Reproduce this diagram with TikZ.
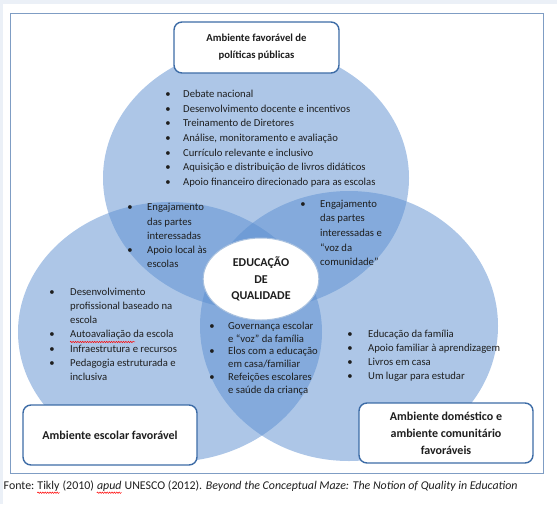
\documentclass[tikz,border=0pt]{standalone}
\usepackage{fontspec}
\setmainfont{Carlito}
\usetikzlibrary{decorations.pathmorphing}
\definecolor{circfill}{HTML}{5B8ED0}
\definecolor{boxline}{HTML}{3D6CA6}
\definecolor{frameline}{HTML}{7F9DC4}
\definecolor{bandcol}{HTML}{EBF0F7}
\definecolor{inkcol}{HTML}{1E1E1E}
\definecolor{ringcol}{HTML}{A9C1DF}
\newcommand\capsp{\hbox{\ }}
\begin{document}
\begin{tikzpicture}[x=1pt,y=-1pt,
  venn/.style={fill=circfill, fill opacity=0.5},
  titlebox/.style={draw=boxline, line width=1.4pt, fill=white, rounded corners=8pt,
    align=center, inner sep=0pt, text=inkcol},
  txt/.style={inner sep=0pt, anchor=mid west, text=inkcol, font=\fontsize{10.67}{13}\selectfont},
  blt/.style={inner sep=0pt, anchor=mid, text=inkcol, font=\fontsize{10.67}{13}\selectfont},
  captxt/.style={inner sep=0pt, anchor=base west, text=inkcol, font=\fontsize{11.9}{14}\selectfont},
  spell/.style={draw=red, line width=0.5pt, decorate, decoration={snake, amplitude=0.7pt, segment length=2.4pt}}
]
\useasboundingbox (0,0) rectangle (557,504);
\fill[bandcol] (0,0) rectangle (557,4);
\fill[bandcol] (0,0) rectangle (3,504);
\draw[frameline, line width=0.8pt] (10,13) rectangle (543,473);

% Venn ellipses
\fill[venn] (256,178) ellipse [x radius=153, y radius=132];
\fill[venn] (170,332) ellipse [x radius=152, y radius=130];
\fill[venn] (349,326) ellipse [x radius=149, y radius=135];

% centre
\node[draw=ringcol, line width=1pt, fill=white, shape=circle, inner sep=0pt,
  minimum size=82pt, xscale=1.41] (core) at (261,279) {};
\node[align=center, inner sep=0pt, text=inkcol, font=\fontsize{12}{16.7}\selectfont\bfseries] (coretxt) at (261,279) {EDUCAÇÃO\\DE\\QUALIDADE};

% title boxes
\node[titlebox, minimum width=165pt, minimum height=51pt, font=\fontsize{10.7}{17}\selectfont\bfseries] (top) at (256.5,47.5) {Ambiente favorável de\\políticas públicas};
\node[titlebox, minimum width=174pt, minimum height=60pt, font=\fontsize{12}{17}\selectfont\bfseries] (left) at (110,435) {Ambiente escolar favorável};
\node[titlebox, minimum width=174pt, minimum height=60pt, font=\fontsize{12}{17}\selectfont\bfseries] (right) at (446,433) {Ambiente doméstico e\\ambiente comunitário\\favoráveis};

% top list
\foreach \y/\b/\t [count=\i] in {95/1/Debate nacional, 109.7/1/Desenvolvimento docente e incentivos,
  124.4/1/Treinamento de Diretores, 139.1/1/{Análise, monitoramento e avaliação},
  153.8/1/Currículo relevante e inclusivo, 168.5/1/Aquisição e distribuição de livros didáticos,
  183.2/1/Apoio financeiro direcionado para as escolas}{
  \node[txt] (ta\i) at (183,\y) {\t};
  \ifnum\b=1 \node[blt] (tb\i) at (168,\y) {\textbullet};\fi
}
% top-left lens
\foreach \y/\b/\t [count=\i] in {208.5/1/Engajamento, 222.7/0/das partes, 236.9/0/interessadas,
  251.1/1/Apoio local às, 265.3/0/escolas}{
  \node[txt] (la\i) at (147,\y) {\t};
  \ifnum\b=1 \node[blt] (lb\i) at (130,\y) {\textbullet};\fi
}
% top-right lens
\foreach \y/\b/\t [count=\i] in {205/1/Engajamento, 219.6/0/das partes, 234.2/0/interessadas e,
  248.8/0/{“voz da}, 263.4/0/{comunidade”}}{
  \node[txt] (ra\i) at (320,\y) {\t};
  \ifnum\b=1 \node[blt] (rb\i) at (303,\y) {\textbullet};\fi
}
% left list
\foreach \y/\b/\t [count=\i] in {293/1/Desenvolvimento, 307.2/0/profissional baseado na, 321.4/0/escola,
  335.6/1/Autoavaliação da escola, 349.8/1/Infraestrutura e recursos,
  364/1/Pedagogia estruturada e, 378.2/0/inclusiva}{
  \node[txt] (sa\i) at (70,\y) {\t};
  \ifnum\b=1 \node[blt] (sb\i) at (52,\y) {\textbullet};\fi
}
% bottom lens
\foreach \y/\b/\t [count=\i] in {327/1/Governança escolar, 339.8/0/{e “voz” da família},
  352.6/1/Elos com a educação, 365.4/0/{em casa/familiar},
  378.2/1/Refeições escolares, 391/0/e saúde da criança}{
  \node[txt] (ga\i) at (228,\y) {\t};
  \ifnum\b=1 \node[blt] (gb\i) at (212,\y) {\textbullet};\fi
}
% right list
\foreach \y/\b/\t [count=\i] in {335/1/Educação da família, 349/1/Apoio familiar à aprendizagem,
  363/1/Livros em casa, 377/1/Um lugar para estudar}{
  \node[txt] (ha\i) at (368,\y) {\t};
  \ifnum\b=1 \node[blt] (hb\i) at (350,\y) {\textbullet};\fi
}

% caption
\node[captxt] (c1) at (3.5,489.5) {Fonte:\capsp};
\node[captxt] (c2) at (c1.base east) {Tikly};
\node[captxt] (c3) at (c2.base east) {\capsp(2010)\capsp};
\node[captxt] (c4) at (c3.base east) {\textit{apud}};
\node[captxt] (c5) at (c4.base east) {\capsp UNESCO (2012). \textit{Beyond the Conceptual Maze: The Notion of Quality in Education}};

% spell-check marks
\draw[spell] ([yshift=-2pt]sa4.south west) -- ++(65,0);
\draw[spell] ([yshift=-3.2pt]c2.base west) -- ([yshift=-3.2pt]c2.base east);
\draw[spell] ([yshift=-3.2pt]c4.base west) -- ([yshift=-3.2pt]c4.base east);
\end{tikzpicture}
\end{document}
